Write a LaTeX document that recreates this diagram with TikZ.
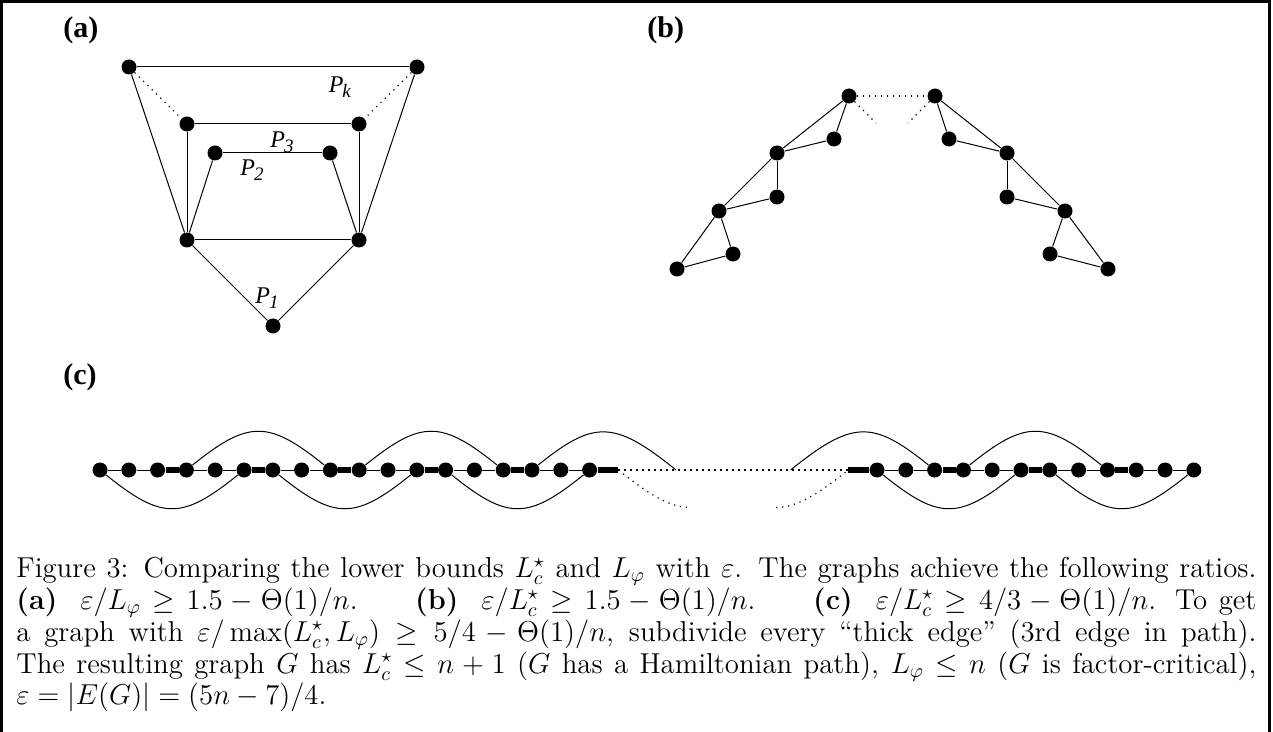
\documentclass[tikz,border=0pt]{standalone}
\usepackage{fontspec}
\newfontfamily\figfont{Liberation Serif}
\newcommand{\pathlab}[1]{\textit{P}\kern-0.5pt\raisebox{-0.5ex}{\fontsize{9.5}{10}\selectfont\textit{#1}}}
\begin{document}
\begin{tikzpicture}[x=0.5pt,y=-0.5pt,
    dot/.style={circle,fill,inner sep=0pt,minimum size=7.5pt},
    edge/.style={line width=0.5pt},
    thickedge/.style={line width=2.6pt},
    dotline/.style={line width=0.6pt,dash pattern=on 0.6pt off 2.4pt},
    panel/.style={font=\figfont\bfseries\fontsize{15}{17}\selectfont,anchor=west,inner sep=0pt},
    plab/.style={font=\figfont\fontsize{12}{13}\selectfont,inner sep=0pt}]
    \useasboundingbox (0,0) rectangle (1273,732);
    \draw[line width=1.5pt] (1.5,732) -- (1.5,1.5) -- (1269.5,1.5) -- (1269.5,732);

    % (a)
    \node[panel] (la) at (63,30) {(a)};
    \draw (129,67) node[dot] (TL) {};
    \draw (417,67) node[dot] (TR) {};
    \draw (187,124) node[dot] (ML) {};
    \draw (359,124) node[dot] (MR) {};
    \draw (215,153) node[dot] (IL) {};
    \draw (330,153) node[dot] (IR) {};
    \draw (187,240) node[dot] (BL) {};
    \draw (359,240) node[dot] (BR) {};
    \draw (273,326) node[dot] (BT) {};
    \draw[edge] (TL)--(TR);
    \draw[edge] (TL)--(BL);
    \draw[edge] (TR)--(BR);
    \draw[dotline] (TL)--(ML);
    \draw[dotline] (TR)--(MR);
    \draw[edge] (ML)--(MR);
    \draw[edge] (ML)--(BL);
    \draw[edge] (MR)--(BR);
    \draw[edge] (IL)--(IR);
    \draw[edge] (IL)--(BL);
    \draw[edge] (IR)--(BR);
    \draw[edge] (BL)--(BR);
    \draw[edge] (BL)--(BT);
    \draw[edge] (BR)--(BT);
    \node[plab] (pk) at (340,87) {\pathlab{k}};
    \node[plab] (p3) at (282,142) {\pathlab{3}};
    \node[plab] (p2) at (252,170) {\pathlab{2}};
    \node[plab] (p1) at (267,298) {\pathlab{1}};

    % (b)
    \node[panel] (lb) at (647,30) {(b)};
    \draw (849,96) node[dot] (L1) {};
    \draw (834,139) node[dot] (LP1) {};
    \draw (777,153) node[dot] (L2) {};
    \draw (777,197) node[dot] (LP2) {};
    \draw (719,211) node[dot] (L3) {};
    \draw (733,254) node[dot] (LP3) {};
    \draw (677,269) node[dot] (L4) {};
    \draw (935,96) node[dot] (R1) {};
    \draw (949,139) node[dot] (RP1) {};
    \draw (1007,153) node[dot] (R2) {};
    \draw (1007,197) node[dot] (RP2) {};
    \draw (1065,211) node[dot] (R3) {};
    \draw (1050,254) node[dot] (RP3) {};
    \draw (1108,269) node[dot] (R4) {};
    \coordinate (LE) at (876,123);
    \coordinate (RE) at (908,123);
    \foreach \s in {L,R} {
        \draw[edge] (\s1)--(\s2);
        \draw[edge] (\s1)--(\s P1);
        \draw[edge] (\s P1)--(\s2);
        \draw[edge] (\s2)--(\s3);
        \draw[edge] (\s2)--(\s P2);
        \draw[edge] (\s P2)--(\s3);
        \draw[edge] (\s3)--(\s4);
        \draw[edge] (\s3)--(\s P3);
        \draw[edge] (\s P3)--(\s4);
    }
    \draw[dotline] (L1)--(R1);
    \draw[dotline] (L1)--(LE);
    \draw[dotline] (R1)--(RE);

    % (c)
    \node[panel] (lc) at (63,377) {(c)};
    \foreach \i in {0,...,17}
        \node[dot] (c\i) at (100+28.8*\i,470) {};
    \foreach \i in {0,...,11}
        \node[dot] (d\i) at (877+28.8*\i,470) {};
    \coordinate (cs) at (618.4,470);
    \coordinate (ct) at (676,470);
    \coordinate (cd) at (690.4,507.5);
    \coordinate (ds) at (848.2,470);
    \coordinate (dt) at (790.6,470);
    \coordinate (dd) at (776.2,507.5);
    \foreach \i [evaluate=\i as \j using int(\i+1)] in {0,...,16}
        \draw[edge] (c\i)--(c\j);
    \foreach \i [evaluate=\i as \j using int(\i+1)] in {0,...,10}
        \draw[edge] (d\i)--(d\j);
    \foreach \i [evaluate=\i as \j using int(\i+1)] in {2,5,8,11,14}
        \draw[thickedge] (c\i)--(c\j);
    \foreach \i [evaluate=\i as \j using int(\i+1)] in {2,5,8}
        \draw[thickedge] (d\i)--(d\j);
    \draw[thickedge] (c17)--(cs);
    \draw[thickedge] (ds)--(d0);
    \draw[dotline] (cs)--(ds);
    % arcs above and below the path
    \draw[edge] (c3) .. controls +(62,-50) and +(-62,-50) .. (c8);
    \draw[edge] (c9) .. controls +(62,-50) and +(-62,-50) .. (c14);
    \draw[edge] (c15) .. controls +(62,-50) and +(-62,-50) .. (ct);
    \draw[edge] (c0) .. controls +(62,50) and +(-62,50) .. (c5);
    \draw[edge] (c6) .. controls +(62,50) and +(-62,50) .. (c11);
    \draw[edge] (c12) .. controls +(62,50) and +(-62,50) .. (c17);
    \draw[dotline] (cs) .. controls +(31,25) and +(-20,0) .. (cd);
    \draw[edge] (dt) .. controls +(62,-50) and +(-62,-50) .. (d2);
    \draw[edge] (d3) .. controls +(62,-50) and +(-62,-50) .. (d8);
    \draw[edge] (d0) .. controls +(62,50) and +(-62,50) .. (d5);
    \draw[edge] (d6) .. controls +(62,50) and +(-62,50) .. (d11);
    \draw[dotline] (dd) .. controls +(20,0) and +(-31,25) .. (ds);

    % caption
    \node[anchor=north west,inner sep=0pt,text width=620pt,align=justify,
        font=\fontsize{14.4}{13.75}\selectfont] (cap) at (16,557) {%
        Figure 3: Comparing the lower bounds $L^\star_c$ and $L_\varphi$ with $\varepsilon$. The graphs achieve the following ratios.\linebreak
        \textbf{(a)}\ \ $\varepsilon/L_\varphi\geq 1.5-\Theta(1)/n$.\qquad \textbf{(b)}\ \ $\varepsilon/L^\star_c\geq 1.5-\Theta(1)/n$.\qquad \textbf{(c)}\ \ $\varepsilon/L^\star_c\geq 4/3-\Theta(1)/n$. To get\linebreak
        a graph with $\varepsilon/\max(L^\star_c,L_\varphi)\geq 5/4-\Theta(1)/n$, subdivide every ``thick edge'' (3rd edge in path).\linebreak
        The resulting graph $G$ has $L^\star_c\leq n+1$ ($G$ has a Hamiltonian path), $L_\varphi\leq n$ ($G$ is factor-critical),\linebreak
        $\varepsilon=|E(G)|=(5n-7)/4$.};
\end{tikzpicture}
\end{document}
